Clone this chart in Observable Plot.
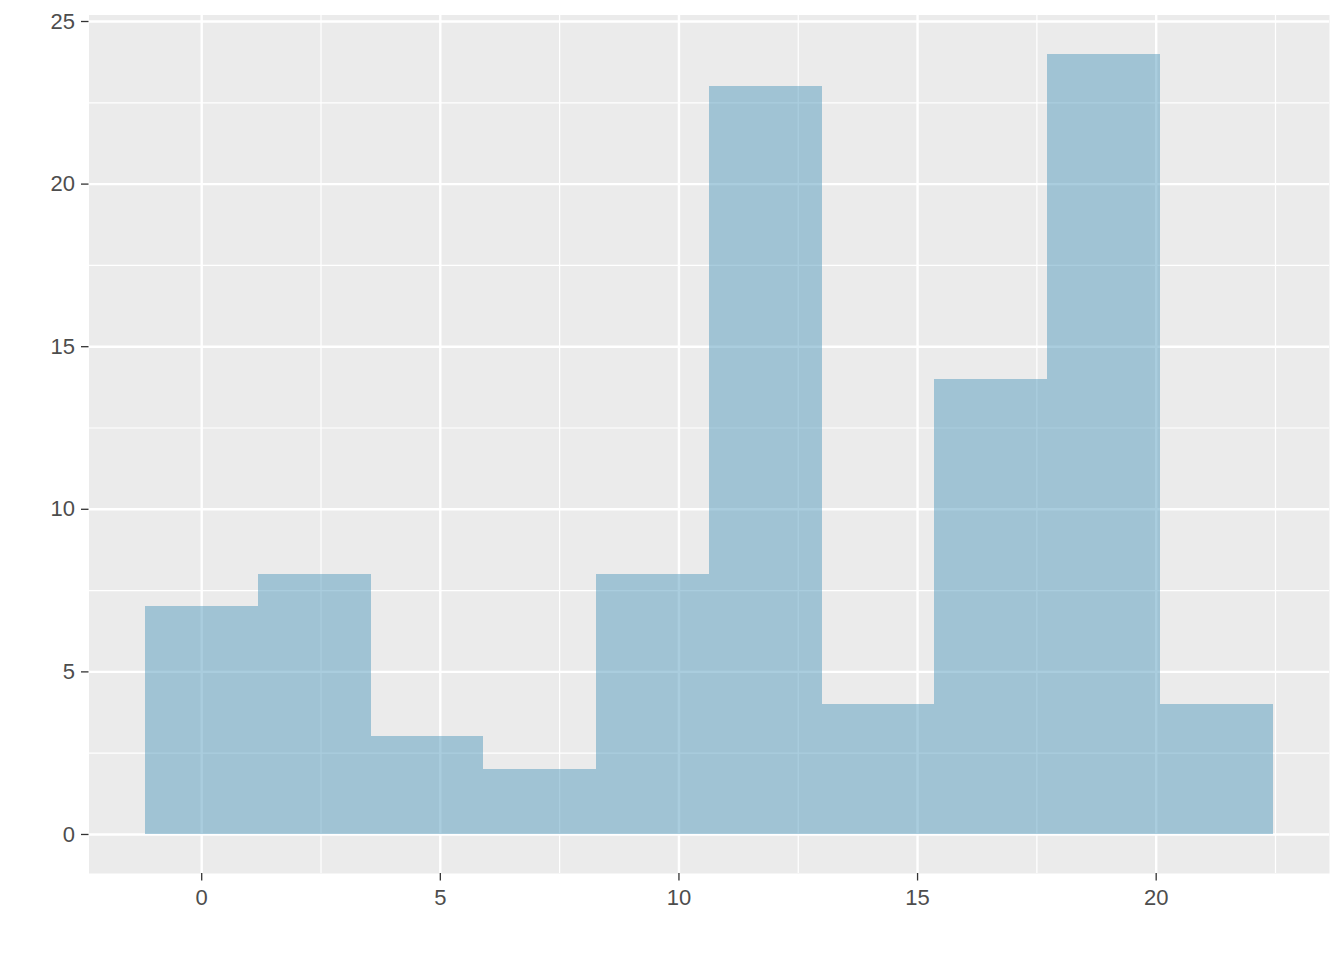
<!DOCTYPE html>
<html>
<head>
<meta charset="utf-8">
<script src="https://cdn.jsdelivr.net/npm/d3@7"></script>
<script src="https://cdn.jsdelivr.net/npm/@observablehq/plot@0.6"></script>
<style>
  html, body { margin: 0; padding: 0; background: white; }
</style>
</head>
<body>
<div id="chart"></div>
<script>
// Histogram bin edges and counts
const binEdges = [-1.18, 1.18, 3.55, 5.91, 8.27, 10.64, 13.00, 15.36, 17.73, 20.09, 22.45];
const counts = [7, 8, 3, 2, 8, 23, 4, 14, 24, 4];

const xTicks = [0, 5, 10, 15, 20];
const yTicks = [0, 5, 10, 15, 20, 25];
const xMinor = [2.5, 7.5, 12.5, 17.5, 22.5];
const yMinor = [2.5, 7.5, 12.5, 17.5, 22.5];

const bins = counts.map((c, i) => ({x1: binEdges[i], x2: binEdges[i + 1], count: c}));

const xLo = binEdges[0], xHi = binEdges[binEdges.length - 1];
const xPad = (xHi - xLo) * 0.05;
const yMax = d3.max(counts);
const yPad = yMax * 0.05;

const chart = Plot.plot({
  width: 1344,
  height: 960,
  marginLeft: 88.5,
  marginRight: 15,
  marginTop: 14.5,
  marginBottom: 87,
  style: {fontFamily: "'Liberation Sans', Arial, sans-serif", background: "white"},
  x: {domain: [xLo - xPad, xHi + xPad], axis: null},
  y: {domain: [-yPad, yMax + yPad], axis: null},
  marks: [
    Plot.frame({fill: "#EBEBEB", stroke: null}),
    Plot.ruleX(xMinor, {stroke: "white", strokeWidth: 1.2}),
    Plot.ruleY(yMinor, {stroke: "white", strokeWidth: 1.2}),
    Plot.ruleX(xTicks, {stroke: "white", strokeWidth: 2.4}),
    Plot.ruleY(yTicks, {stroke: "white", strokeWidth: 2.4}),
    Plot.rectY(bins, {x1: "x1", x2: "x2", y: "count", fill: "#569BBD", fillOpacity: 0.5, shapeRendering: "crispEdges"}),
    Plot.axisX({ticks: xTicks, tickSize: 7.5, tickFormat: () => "", color: "#333333", strokeWidth: 1.3, label: null}),
    Plot.axisY({ticks: yTicks, tickSize: 7.5, tickFormat: () => "", color: "#333333", strokeWidth: 1.3, label: null}),
    Plot.axisX({ticks: xTicks, tickSize: 0, tickPadding: 16, fontSize: 22, color: "#4D4D4D", label: null}),
    Plot.axisY({ticks: yTicks, tickSize: 0, tickPadding: 14, fontSize: 22, color: "#4D4D4D", label: null})
  ]
});
document.getElementById("chart").appendChild(chart);
</script>
</body>
</html>
